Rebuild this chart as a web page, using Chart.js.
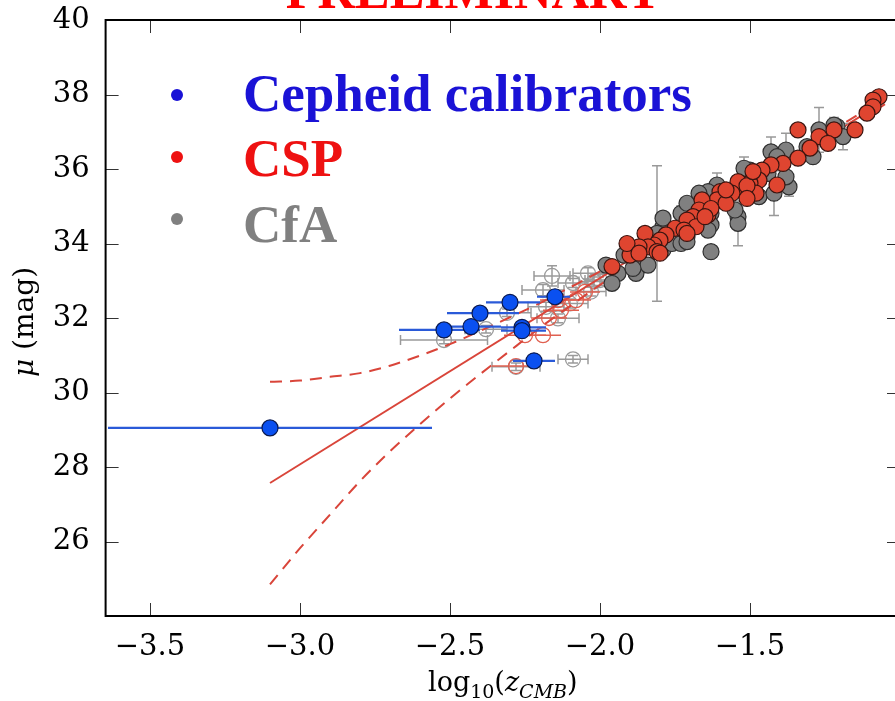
<!DOCTYPE html>
<html lang="en">
<head>
<meta charset="UTF-8">
<title>Hubble diagram - Cepheid calibrators, CSP, CfA</title>
<script src="https://cdn.jsdelivr.net/npm/chart.js"></script>
<style>
  html, body { margin: 0; padding: 0; overflow: hidden; background: #fff; }
  #wrap { position: absolute; left: 0; top: -40px; width: 910px; height: 741px; }
</style>
</head>
<body>
<div id="wrap"><canvas id="hubble"></canvas></div>
<script>
// axis ticks
const xTicks = [-3.5, -3.0, -2.5, -2.0, -1.5];
const yTicks = [26, 28, 30, 32, 34, 36, 38, 40];

// Cepheid calibrators (blue), asymmetric x errors
const cephX = [-3.10, -2.52, -2.43, -2.40, -2.30, -2.26, -2.26, -2.22, -2.15];
const cephY = [29.05, 31.68, 31.77, 32.13, 32.42, 31.75, 31.66, 30.85, 32.57];
const cephXErrLo = [0.54, 0.15, 0.10, 0.11, 0.08, 0.07, 0.07, 0.07, 0.06];
const cephXErrHi = [0.54, 0.12, 0.10, 0.13, 0.10, 0.08, 0.08, 0.07, 0.05];

// CSP (red filled)
const cspX = [-1.07, -1.09, -1.09, -1.11, -1.15, -1.22, -1.27, -1.24, -1.34, -1.30,
              -1.34, -1.39, -1.43, -1.46, -1.47, -1.50, -1.41, -1.54, -1.51, -1.56,
              -1.48, -1.60, -1.61, -1.66, -1.67, -1.64, -1.69, -1.71, -1.68, -1.75,
              -1.72, -1.78, -1.80, -1.82, -1.85, -1.84, -1.87, -1.90, -1.91, -1.87,
              -1.96, -1.81, -1.80, -1.58, -1.51, -1.63, -1.71, -1.49, -1.51, -1.65,
              -1.58];
const cspY = [37.94, 37.85, 37.67, 37.50, 37.05, 37.05, 36.87, 36.69, 37.05, 36.56,
              36.29, 36.15, 36.11, 35.97, 35.70, 35.62, 35.57, 35.66, 35.39, 35.35,
              35.35, 35.39, 35.17, 35.17, 34.90, 34.77, 34.72, 34.63, 34.45, 34.41,
              34.36, 34.23, 34.09, 33.96, 34.27, 33.91, 33.91, 33.69, 34.00, 33.74,
              33.38, 33.78, 33.74, 35.08, 35.55, 34.94, 34.27, 35.93, 35.21, 34.72,
              35.44];

// CfA (grey filled)
const cfaX = [-1.21, -1.27, -1.19, -1.29, -1.31, -1.38, -1.37, -1.38, -1.47, -1.50,
              -1.44, -1.52, -1.54, -1.54, -1.61, -1.64, -1.63, -1.63, -1.69, -1.73,
              -1.74, -1.79, -1.63, -1.79, -1.84, -1.92, -1.87, -1.88, -1.94, -1.96,
              -1.98, -1.71, -1.68, -1.81, -1.79, -1.84, -1.76, -1.67, -1.71, -1.43,
              -1.73, -1.71, -1.64, -1.89, -1.41, -1.42, -1.55, -1.22];
const cfaY = [37.14, 37.05, 36.87, 36.33, 36.60, 36.51, 35.52, 35.79, 35.26, 35.97,
              35.88, 36.02, 34.72, 34.54, 35.57, 35.39, 34.81, 34.50, 34.99, 34.81,
              34.18, 34.45, 33.78, 33.83, 34.18, 33.69, 33.51, 33.20, 33.20, 32.93,
              33.42, 35.08, 34.74, 34.27, 34.68, 33.42, 34.00, 35.35, 34.18, 36.46,
              34.00, 34.05, 34.36, 33.33, 36.33, 35.35, 34.90, 37.18];
const cfaYErr = [0, 0.6, 0.35, 0, 0, 0.45, 0.25, 0, 0, 0,
                 0.2, 0.3, 0, 0.6, 0.32, 0, 0.2, 0, 0.25, 0.2,
                 0, 0.25, 0.15, 0, 0, 0, 0.15, 0, 0, 0.15,
                 0.15, 0, 0, 1.82, 0, 0, 0, 0, 0, 0.4,
                 0, 0, 0, 0, 0.2, 0.6, 0, 0.2];

// excluded low-z objects (open symbols)
const openGreyX = [-2.52, -2.38, -2.31, -2.19, -2.16, -2.28, -2.09, -2.04, -2.10, -2.14, -2.03, -2.18, -2.00, -2.09, -2.02];
const openGreyY = [31.41, 31.70, 32.14, 32.75, 33.13, 30.69, 30.89, 33.20, 32.39, 31.99, 32.71, 32.30, 33.02, 32.94, 32.98];
const openGreyXErr = [0.145, 0.07, 0.08, 0.07, 0.06, 0.08, 0.05, 0.05, 0.06, 0.07, 0.05, 0.06, 0.05, 0.05, 0.05];
const openGreyYErr = [0.10, 0.10, 0.10, 0.15, 0.27, 0.10, 0.10, 0.15, 0.12, 0.12, 0.12, 0.12, 0.15, 0.12, 0.12];
const openRedX = [-2.25, -2.19, -2.28, -2.17, -2.13, -2.08, -2.05, -2.14];
const openRedY = [31.54, 31.54, 30.71, 32.00, 32.21, 32.48, 32.70, 32.48];
const openRedXErr = [0.07, 0.06, 0.08, 0.06, 0.06, 0.05, 0.05, 0.06];

// Hubble-law fit and its uncertainty band
const fitX = [-3.10, -1.05];
const fitY = [27.57, 37.82];
const bandX = [-3.1, -3.0, -2.9, -2.8, -2.7, -2.6, -2.5, -2.4, -2.3, -2.2, -2.1, -2.0, -1.05];
const bandUpper = [30.29, 30.32, 30.42, 30.52, 30.72, 30.99, 31.30, 31.65, 32.02, 32.40, 32.82, 33.25, 37.90];
const bandLower = [24.85, 25.82, 26.72, 27.62, 28.42, 29.15, 29.84, 30.49, 31.12, 31.74, 32.32, 32.89, 37.74];

const legendLabels = ['Cepheid calibrators', 'CSP', 'CfA'];
const legendColors = ['#1a12d6', '#ee1111', '#808080'];

const pts = (xs, ys) => xs.map((x, i) => ({ x: x, y: ys[i] }));

// error bars drawn just before the dataset they belong to
const errorBars = {
  id: 'errorBars',
  beforeDatasetDraw(chart, args) {
    const ds = chart.data.datasets[args.index];
    const e = ds.errs;
    if (!e) return;
    const { ctx, chartArea: a, scales: { x, y } } = chart;
    ctx.save();
    ctx.beginPath();
    ctx.rect(a.left, a.top, a.right - a.left, a.bottom - a.top);
    ctx.clip();
    ctx.strokeStyle = e.color;
    ctx.lineWidth = e.width;
    ds.data.forEach((p, i) => {
      const px = x.getPixelForValue(p.x);
      const py = y.getPixelForValue(p.y);
      const lo = e.xLo ? e.xLo[i] : 0;
      const hi = e.xHi ? e.xHi[i] : 0;
      if (lo || hi) {
        const x0 = x.getPixelForValue(p.x - lo), x1 = x.getPixelForValue(p.x + hi);
        ctx.beginPath();
        ctx.moveTo(x0, py); ctx.lineTo(x1, py);
        if (e.cap) {
          ctx.moveTo(x0, py - e.cap); ctx.lineTo(x0, py + e.cap);
          ctx.moveTo(x1, py - e.cap); ctx.lineTo(x1, py + e.cap);
        }
        ctx.stroke();
      }
      const ye = e.y ? e.y[i] : 0;
      if (ye) {
        const y0 = y.getPixelForValue(p.y - ye), y1 = y.getPixelForValue(p.y + ye);
        ctx.beginPath();
        ctx.moveTo(px, y0); ctx.lineTo(px, y1);
        if (e.cap) {
          ctx.moveTo(px - e.cap, y0); ctx.lineTo(px + e.cap, y0);
          ctx.moveTo(px - e.cap, y1); ctx.lineTo(px + e.cap, y1);
        }
        ctx.stroke();
      }
    });
    ctx.restore();
  }
};

// box with inward ticks on all four sides
const frame = {
  id: 'frame',
  afterDatasetsDraw(chart) {
    const { ctx, chartArea: a, scales: { x, y } } = chart;
    ctx.save();
    ctx.strokeStyle = '#333';
    ctx.lineWidth = 1;
    ctx.beginPath();
    xTicks.forEach(v => {
      const px = Math.round(x.getPixelForValue(v)) + 0.5;
      ctx.moveTo(px, a.bottom); ctx.lineTo(px, a.bottom - 13);
      ctx.moveTo(px, a.top); ctx.lineTo(px, a.top + 13);
    });
    yTicks.forEach(v => {
      const py = Math.round(y.getPixelForValue(v)) + 0.5;
      ctx.moveTo(a.left, py); ctx.lineTo(a.left + 13, py);
      ctx.moveTo(a.right, py); ctx.lineTo(a.right - 13, py);
    });
    ctx.stroke();
    ctx.strokeStyle = '#000';
    ctx.lineWidth = 2;
    ctx.strokeRect(a.left, a.top, a.right - a.left, a.bottom - a.top);
    ctx.restore();
  }
};

// title, legend and math-style axis titles
const texts = {
  id: 'texts',
  afterDraw(chart) {
    const { ctx, chartArea: a } = chart;
    ctx.save();
    ctx.textBaseline = 'alphabetic';

    ctx.fillStyle = '#ff0000';
    ctx.font = 'bold 52px "Liberation Serif"';
    ctx.textAlign = 'center';
    ctx.fillText('PRELIMINARY', 474, 48);

    ctx.textAlign = 'left';
    ctx.font = 'bold 53px "Liberation Serif"';
    const dotY = [135, 197, 259];
    const baseY = [151, 216, 282];
    legendLabels.forEach((t, i) => {
      ctx.fillStyle = legendColors[i];
      ctx.beginPath();
      ctx.arc(177, dotY[i], 6, 0, Math.PI * 2);
      ctx.fill();
      ctx.fillText(t, 243, baseY[i]);
    });

    // x title: log10(z_CMB)
    ctx.fillStyle = '#000';
    const big = '27px "DejaVu Serif"', small = '19px "DejaVu Serif"';
    const bigI = 'italic 27px "DejaVu Serif"', smallI = 'italic 19px "DejaVu Serif"';
    const parts = [
      ['log', big, 0], ['10', small, 7], ['(', big, 0],
      ['z', bigI, 0], ['CMB', smallI, 7], [')', big, 0]
    ];
    let w = 0;
    parts.forEach(p => { ctx.font = p[1]; w += ctx.measureText(p[0]).width; });
    let cx = (a.left + a.right) / 2 - w / 2;
    parts.forEach(p => {
      ctx.font = p[1];
      ctx.fillText(p[0], cx, 731 + p[2]);
      cx += ctx.measureText(p[0]).width;
    });

    // y title: mu (mag)
    ctx.translate(33, 362);
    ctx.rotate(-Math.PI / 2);
    ctx.font = 'italic 28px "DejaVu Serif"';
    const w1 = ctx.measureText('\u03bc').width;
    ctx.font = '28px "DejaVu Serif"';
    const w2 = ctx.measureText(' (mag)').width;
    const sx = -(w1 + w2) / 2;
    ctx.font = 'italic 28px "DejaVu Serif"';
    ctx.fillText('\u03bc', sx, 0);
    ctx.font = '28px "DejaVu Serif"';
    ctx.fillText(' (mag)', sx + w1, 0);
    ctx.restore();
  }
};

const tickFont = { family: 'DejaVu Serif', size: 29 };

new Chart(document.getElementById('hubble'), {
  type: 'scatter',
  data: {
    datasets: [
      {
        label: 'Cepheid calibrators', data: pts(cephX, cephY),
        backgroundColor: '#0a50f0', borderColor: '#0a1a50', borderWidth: 1.2, pointRadius: 8,
        errs: { xLo: cephXErrLo, xHi: cephXErrHi, color: '#2a5ad8', width: 2.2, cap: 0 }
      },
      {
        label: 'CSP', data: pts(cspX, cspY),
        backgroundColor: '#df4530', borderColor: '#3a1510', borderWidth: 1.2, pointRadius: 8
      },
      {
        label: 'CfA', data: pts(cfaX, cfaY),
        backgroundColor: '#808080', borderColor: '#303030', borderWidth: 1.2, pointRadius: 8,
        errs: { y: cfaYErr, color: '#999', width: 1.5, cap: 5 }
      },
      {
        label: 'fit', type: 'line', data: pts(fitX, fitY),
        borderColor: '#d9453a', borderWidth: 2, pointRadius: 0, showLine: true, fill: false
      },
      {
        label: 'band upper', type: 'line', data: pts(bandX, bandUpper),
        borderColor: '#d9453a', borderWidth: 2, borderDash: [12, 8], pointRadius: 0,
        showLine: true, fill: false, cubicInterpolationMode: 'monotone'
      },
      {
        label: 'band lower', type: 'line', data: pts(bandX, bandLower),
        borderColor: '#d9453a', borderWidth: 2, borderDash: [12, 8], pointRadius: 0,
        showLine: true, fill: false, cubicInterpolationMode: 'monotone'
      },
      {
        label: 'CSP excluded', data: pts(openRedX, openRedY),
        backgroundColor: 'rgba(0,0,0,0)', borderColor: '#e06050', borderWidth: 1.3, pointRadius: 7.5,
        errs: { xLo: openRedXErr, xHi: openRedXErr, color: '#e06050', width: 1.5, cap: 0 }
      },
      {
        label: 'CfA excluded', data: pts(openGreyX, openGreyY),
        backgroundColor: 'rgba(0,0,0,0)', borderColor: '#9a9a9a', borderWidth: 1.3, pointRadius: 7.5,
        errs: { xLo: openGreyXErr, xHi: openGreyXErr, y: openGreyYErr, color: '#9a9a9a', width: 1.5, cap: 5 }
      }
    ]
  },
  options: {
    responsive: true,
    maintainAspectRatio: false,
    animation: false,
    events: [],
    layout: { padding: { top: 60, right: 10, left: 0, bottom: 0 } },
    plugins: { legend: { display: false }, tooltip: { enabled: false } },
    scales: {
      x: {
        type: 'linear', min: -3.648, max: -1.0,
        grid: { display: false, drawTicks: false },
        border: { display: false },
        afterBuildTicks: s => { s.ticks = xTicks.map(v => ({ value: v })); },
        afterFit: s => { s.height = 85; },
        ticks: {
          autoSkip: false, maxRotation: 0, padding: 14, color: '#000', font: tickFont,
          callback: v => (v < 0 ? '\u2212' : '') + Math.abs(v).toFixed(1)
        }
      },
      y: {
        type: 'linear', min: 24, max: 40,
        grid: { display: false, drawTicks: false },
        border: { display: false },
        afterBuildTicks: s => { s.ticks = yTicks.map(v => ({ value: v })); },
        afterFit: s => { s.width = 105.6; },
        ticks: { autoSkip: false, padding: 16, color: '#000', font: tickFont, callback: v => String(v) }
      }
    }
  },
  plugins: [errorBars, frame, texts]
});
</script>
</body>
</html>
